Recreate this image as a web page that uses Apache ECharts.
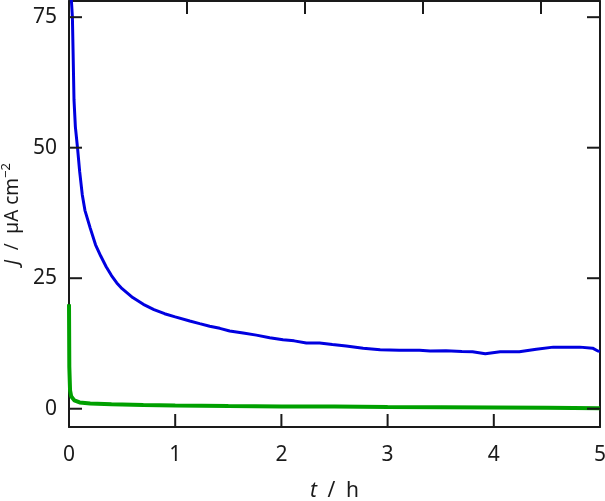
<!DOCTYPE html>
<html>
<head>
<meta charset="utf-8">
<script src="https://cdn.jsdelivr.net/npm/echarts@6/dist/echarts.min.js"></script>
<style>html,body{margin:0;padding:0;background:#fff}#c{width:605px;height:501px}</style>
</head>
<body>
<div id="c"></div>
<script>
// time in hours
const blueT = [0.01,0.022,0.032,0.038,0.047,0.06,0.08,0.10,0.125,0.15,0.20,0.25,0.30,0.35,0.40,0.45,0.50,0.60,0.70,0.80,0.90,1.0,1.137,1.23,1.325,1.42,1.513,1.64,1.764,1.89,2.015,2.12,2.235,2.36,2.48,2.61,2.77,2.93,3.11,3.30,3.40,3.55,3.70,3.80,3.92,4.06,4.24,4.40,4.56,4.70,4.81,4.93,4.98,5.0];
const blueJ = [120,78.4,75,68.8,59.2,54,50,45.5,41,38,34.6,31.4,29.2,27.2,25.5,24.1,23.0,21.3,20.0,19.0,18.2,17.6,16.8,16.3,15.8,15.4,14.9,14.5,14.1,13.6,13.2,13.0,12.6,12.6,12.3,12.0,11.6,11.3,11.2,11.2,11.05,11.1,10.95,10.9,10.55,10.9,10.9,11.4,11.8,11.8,11.8,11.6,11.05,11.0];
const greenT = [0,0.003,0.01,0.02,0.05,0.1,0.2,0.4,0.7,1.0,1.5,2.0,2.5,3.0,3.5,4.0,4.5,5.0];
const greenJ = [20,8,3.5,2.4,1.6,1.2,1.0,0.85,0.7,0.6,0.5,0.45,0.42,0.35,0.3,0.25,0.2,0.1];
const yTicks = [0,25,50,75];
const xTicks = [0,1,2,3,4,5];
const topTicksSec = [4000,8000,12000,16000];
const X_MIN = 0, X_MAX = 5, Y_MIN = -3.5, Y_MAX = 78.1;

const FONT = 'Noto Sans';
const INK = '#1a1a1a';
const SP = '\u2002';
const TICK_LEN = 13;
const chart = echarts.init(document.getElementById('c'), null, {renderer:'canvas'});
const zip = (a,b) => a.map((v,i)=>[v,b[i]]);
const mkLine = () => ({show:true, onZero:false, lineStyle:{color:INK, width:2}});

chart.setOption({
  animation:false,
  backgroundColor:'#fff',
  grid:{left:69, right:5, top:1, bottom:74, containLabel:false,
        outerBounds:{left:-200, top:-200, right:-200, bottom:-200}},
  xAxis:[{
    type:'value', min:X_MIN, max:X_MAX, interval:1, position:'bottom',
    axisLine:mkLine(), axisTick:{show:false},
    axisLabel:{fontFamily:FONT, fontSize:21, color:INK, margin:18},
    splitLine:{show:false},
    name:'{i|t}'+SP+'/'+SP+'h', nameLocation:'middle', nameGap:54,
    nameTextStyle:{fontFamily:FONT, fontSize:21, color:INK, rich:{i:{fontStyle:'italic', fontFamily:FONT, fontSize:21, color:INK}}}
  },{
    type:'value', min:0, max:18000, interval:4000, position:'top',
    axisLine:mkLine(), axisTick:{show:false},
    axisLabel:{show:false}, splitLine:{show:false}
  }],
  yAxis:[{
    type:'value', min:Y_MIN, max:Y_MAX, position:'left',
    axisLine:mkLine(), axisTick:{show:false},
    axisLabel:{customValues:yTicks, fontFamily:FONT, fontSize:21, color:INK, margin:12},
    splitLine:{show:false},
    name:'{i|J}'+SP+'/'+SP+'µA cm{s|−2}', nameLocation:'middle', nameGap:38,
    nameTextStyle:{fontFamily:FONT, fontSize:19, color:INK,
      rich:{i:{fontStyle:'italic', fontFamily:FONT, fontSize:19, color:INK},
            s:{fontFamily:FONT, fontSize:13, color:INK, padding:[0,0,12,0]}}}
  },{
    type:'value', min:Y_MIN, max:Y_MAX, position:'right',
    axisLine:mkLine(), axisTick:{show:false},
    axisLabel:{show:false}, splitLine:{show:false}
  }],
  series:[
    {type:'line', xAxisIndex:0, yAxisIndex:0, data:zip(greenT,greenJ), showSymbol:false, symbol:'none', clip:true,
     lineStyle:{color:'#00a000', width:4}},
    {type:'line', xAxisIndex:0, yAxisIndex:0, data:zip(blueT,blueJ), showSymbol:false, symbol:'none', clip:true,
     lineStyle:{color:'#0000e0', width:3}}
  ]
});

// Tick marks placed through the library's own value->pixel conversion
function buildTicks(){
  const toPx = (x, y) => chart.convertToPixel({xAxisIndex:0, yAxisIndex:0}, [x, y]);
  const items = [].concat(
    xTicks.map(v => [v, Y_MIN, 0, -1]),
    topTicksSec.map(s => [s/3600, Y_MAX, 0, 1]),
    yTicks.map(v => [X_MIN, v, 1, 0]),
    yTicks.map(v => [X_MAX, v, -1, 0])
  );
  const els = items.map((it, i) => {
    const p = toPx(it[0], it[1]);
    return {type:'line', id:'tk'+i, silent:true, z:100,
            shape:{x1:p[0], y1:p[1], x2:p[0]+it[2]*TICK_LEN, y2:p[1]+it[3]*TICK_LEN},
            style:{stroke:INK, lineWidth:2}};
  });
  chart.setOption({graphic:{elements:els}});
}
buildTicks();
</script>
</body>
</html>
